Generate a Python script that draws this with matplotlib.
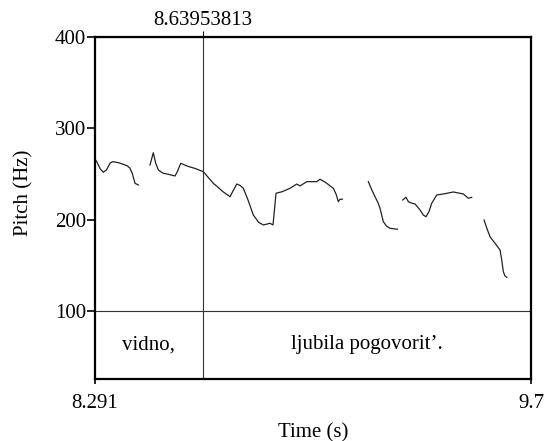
import numpy as np
import matplotlib.pyplot as plt

plt.rcParams['font.family'] = ['Liberation Serif', 'DejaVu Serif']

# pitch track segments (time in s, pitch in Hz)
seg1_t = [8.2915, 8.2965, 8.3080, 8.3178, 8.3280, 8.3400, 8.3482, 8.3650,
          8.3825, 8.3950, 8.4041, 8.4120, 8.4203, 8.4310]
seg1_f = [266.0, 263.5, 255.5, 251.9, 254.5, 262.0, 263.5, 262.5,
          260.6, 259.0, 256.2, 250.0, 239.8, 238.0]

seg2_t = [8.4688, 8.4794, 8.4870, 8.4956, 8.5100, 8.5300, 8.5496, 8.5570,
          8.5680, 8.5900, 8.6150, 8.6410, 8.6550, 8.6733, 8.6850, 8.7050,
          8.7273, 8.7380, 8.7490, 8.7600, 8.7703, 8.7850, 8.8026, 8.8200,
          8.8350, 8.8566, 8.8663, 8.8760, 8.8950, 8.9212, 8.9429, 8.9536,
          8.9753, 9.0075, 9.0182, 9.0300, 9.0399, 9.0612, 9.0700, 9.0774,
          9.0828, 9.0903]
seg2_f = [259.9, 273.3, 262.0, 254.4, 251.0, 249.5, 247.8, 252.5,
          261.7, 258.5, 256.0, 252.5, 247.0, 239.8, 236.5, 230.5,
          225.1, 232.0, 239.0, 237.5, 234.3, 222.0, 205.1, 197.0,
          194.2, 196.0, 194.2, 228.9, 230.5, 234.3, 239.0, 236.9,
          241.6, 241.6, 244.2, 242.0, 239.8, 234.3, 228.0, 219.7,
          222.3, 222.3]

seg3_t = [9.1743, 9.1850, 9.1960, 9.2050, 9.2121, 9.2228, 9.2330, 9.2445,
          9.2681]
seg3_f = [241.6, 233.0, 225.1, 219.0, 212.4, 197.8, 193.0, 190.5,
          189.5]

seg4_t = [9.2855, 9.2962, 9.3036, 9.3150, 9.3253, 9.3414, 9.3520, 9.3608,
          9.3700, 9.3792, 9.3954, 9.4167, 9.4490, 9.4814, 9.4975, 9.5085]
seg4_f = [221.5, 224.5, 219.7, 218.0, 217.2, 210.6, 205.0, 203.2,
          208.5, 217.9, 227.0, 228.1, 230.3, 228.1, 223.4, 224.5]

seg5_t = [9.5483, 9.5580, 9.5677, 9.5838, 9.6000, 9.6055, 9.6107, 9.6160,
          9.6217]
seg5_f = [199.6, 190.0, 181.3, 174.1, 166.8, 155.8, 143.0, 138.3,
          136.9]

t_start, t_end = 8.291, 9.7
cursor = 8.63953813
f_min, f_max = 100, 400
tier_bottom = 25.5
word_bounds = [8.291, 8.63953813, 9.7]
word_labels = ['vidno,', 'ljubila pogovorit\u2019.']
y_ticks = [100, 200, 300, 400]

fs = 15

fig = plt.figure(figsize=(5.47, 4.41), dpi=100)
ax = fig.add_axes([0.1737, 0.1406, 0.797, 0.7755])

for t, f in [(seg1_t, seg1_f), (seg2_t, seg2_f), (seg3_t, seg3_f),
             (seg4_t, seg4_f), (seg5_t, seg5_f)]:
    ax.plot(t, f, color='#222222', lw=0.9)

ax.axhline(f_min, color='#333333', lw=0.8)
ax.axvline(cursor, color='#333333', lw=0.8)

for i, lab in enumerate(word_labels):
    mid = (word_bounds[i] + word_bounds[i + 1]) / 2
    ax.text(mid, (f_min + tier_bottom) / 2, lab, ha='center', va='center',
            fontsize=fs)

ax.set_xlim(t_start, t_end)
ax.set_ylim(tier_bottom, f_max)
ax.set_xticks([t_start, t_end])
ax.set_xticklabels(['8.291', '9.7'])
ax.set_yticks(y_ticks)
ax.tick_params(axis='y', labelsize=fs, direction='out', length=5.5,
               width=1.2, pad=1)
ax.tick_params(axis='x', labelsize=fs, direction='out', length=3.5,
               width=1.2, pad=7)
for s in ax.spines.values():
    s.set_linewidth(1.6)

top = ax.secondary_xaxis('top')
top.set_xticks([cursor])
top.set_xticklabels(['8.63953813'])
top.tick_params(labelsize=fs, length=4, width=0.8, pad=1.2)

ax.set_xlabel('Time (s)', fontsize=fs)
ax.xaxis.set_label_coords(0.5, -0.128)
ax.set_ylabel('Pitch (Hz)', fontsize=fs)
ax.yaxis.set_label_coords(-0.142, 0.545)

fig.savefig('out.png', dpi=100)
